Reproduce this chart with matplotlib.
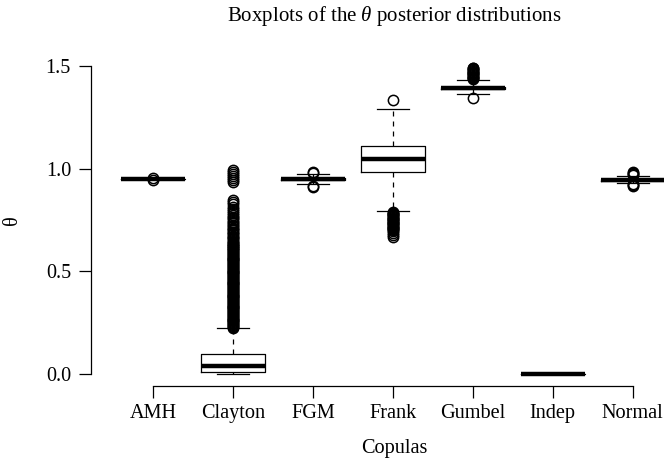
import matplotlib
matplotlib.use("Agg")
import matplotlib.pyplot as plt

plt.rcParams['font.family'] = ['Liberation Serif', 'DejaVu Serif']
plt.rcParams['mathtext.fontset'] = 'custom'
plt.rcParams['mathtext.rm'] = 'Liberation Serif'
plt.rcParams['mathtext.it'] = 'Liberation Serif:italic'
plt.rcParams['lines.scale_dashes'] = False

# ---- data ----
copulas = ["AMH", "Clayton", "FGM", "Frank", "Gumbel", "Indep", "Normal"]
medians = [0.950, 0.040, 0.950, 1.049, 1.394, 0.0, 0.946]
q1s = [0.949, 0.012, 0.944, 0.985, 1.388, 0.0, 0.941]
q3s = [0.951, 0.096, 0.956, 1.112, 1.400, 0.0, 0.952]
whis_lo = [0.948, 0.001, 0.924, 0.793, 1.362, 0.0, 0.929]
whis_hi = [0.952, 0.222, 0.974, 1.290, 1.432, 0.0, 0.966]

fliers_amh = [0.945, 0.955]
fliers_clayton = [0.225, 0.229, 0.234, 0.238, 0.243, 0.247, 0.252, 0.256, 0.261, 0.265,
                  0.270, 0.274, 0.279, 0.283, 0.288, 0.292, 0.297, 0.301, 0.306, 0.310,
                  0.315, 0.319, 0.324, 0.328, 0.333, 0.337, 0.342, 0.346, 0.351, 0.355,
                  0.360, 0.364, 0.369, 0.373, 0.378, 0.382, 0.387, 0.391, 0.396, 0.400,
                  0.405, 0.409, 0.414, 0.418, 0.423, 0.427, 0.432, 0.436, 0.441, 0.445,
                  0.450, 0.454, 0.459, 0.463, 0.468, 0.472, 0.477, 0.481, 0.486, 0.490,
                  0.495, 0.499, 0.504, 0.508, 0.513, 0.517, 0.522, 0.526, 0.531, 0.535,
                  0.540, 0.544, 0.549, 0.553, 0.558, 0.562, 0.567, 0.571, 0.576, 0.580,
                  0.585, 0.589, 0.594, 0.598, 0.603, 0.607, 0.612, 0.616, 0.621, 0.625,
                  0.630, 0.635, 0.640, 0.645, 0.650, 0.656, 0.662, 0.668, 0.674, 0.680,
                  0.686, 0.692, 0.699, 0.706, 0.713, 0.720, 0.727, 0.734, 0.742, 0.750,
                  0.758, 0.767, 0.776, 0.785, 0.795, 0.805, 0.815, 0.826, 0.837, 0.845,
                  0.935, 0.945, 0.955, 0.965, 0.975, 0.985, 0.995]
fliers_fgm = [0.980, 0.986, 0.918, 0.912]
fliers_frank = [1.336,
                0.789, 0.785, 0.781, 0.777, 0.773, 0.769, 0.765, 0.761, 0.757, 0.753,
                0.749, 0.745, 0.741, 0.737, 0.733, 0.729, 0.725, 0.721, 0.717, 0.713,
                0.709, 0.705, 0.700, 0.695, 0.688, 0.678, 0.668]
fliers_gumbel = [1.436, 1.440, 1.444, 1.448, 1.452, 1.456, 1.460, 1.464, 1.468, 1.472,
                 1.476, 1.480, 1.484, 1.488, 1.492, 1.346]
fliers_indep = []
fliers_normal = [0.970, 0.975, 0.980, 0.984, 0.924, 0.920, 0.916]
fliers_all = [fliers_amh, fliers_clayton, fliers_fgm, fliers_frank,
              fliers_gumbel, fliers_indep, fliers_normal]

y_ticks = [0.0, 0.5, 1.0, 1.5]

# ---- figure ----
W, H = 664, 462
fig = plt.figure(figsize=(W / 100, H / 100), dpi=100)
left_px, right_px, top_px, bot_px = 90.6, 695.0, 53.7, 386.3
ax = fig.add_axes([left_px / W, 1 - bot_px / H, (right_px - left_px) / W, (bot_px - top_px) / H])

stats = []
for i, name in enumerate(copulas):
    stats.append(dict(label=name, med=medians[i], q1=q1s[i], q3=q3s[i],
                      whislo=whis_lo[i], whishi=whis_hi[i], fliers=fliers_all[i]))

pos = list(range(1, len(copulas) + 1))
ax.bxp(stats, positions=pos, widths=0.8, capwidths=0.4, showfliers=True,
       boxprops=dict(color='black', linewidth=0.9),
       medianprops=dict(color='black', linewidth=3.2, solid_capstyle='butt'),
       whiskerprops=dict(color='black', linewidth=0.9, linestyle=(0, (3.6, 3.6))),
       capprops=dict(color='black', linewidth=0.9),
       flierprops=dict(marker='o', markerfacecolor='none', markeredgecolor='black',
                       markersize=7.4, markeredgewidth=1.1, linestyle='none'))

ax.set_xlim(0.22, 7.78)
ax.set_ylim(-0.06, 1.56)
ax.set_yticks(y_ticks)
ax.set_yticklabels([f"{v:.1f}" for v in y_ticks])
ax.set_xticks(pos)
ax.set_xticklabels(copulas)

for s in ['top', 'right']:
    ax.spines[s].set_visible(False)
ax.spines['left'].set_bounds(0, 1.5)
ax.spines['bottom'].set_bounds(1, 7)
ax.spines['left'].set_linewidth(0.9)
ax.spines['bottom'].set_linewidth(0.9)
ax.tick_params(axis='both', direction='out', length=8.6, width=0.9, labelsize=14.6, color='black')
ax.tick_params(axis='y', pad=5.5)
ax.tick_params(axis='x', pad=4)

fig.text(394.5 / W, 1 - 16 / H, r"Boxplots of the $\theta$ posterior distributions",
         ha='center', va='center', fontsize=15.0)
fig.text(394 / W, 1 - 448 / H, "Copulas", ha='center', va='center', fontsize=14.6)
fig.text(13 / W, 1 - 220 / H, "θ", ha='center', va='center', rotation=90, fontsize=14.6)

fig.savefig("out.png", dpi=100)
